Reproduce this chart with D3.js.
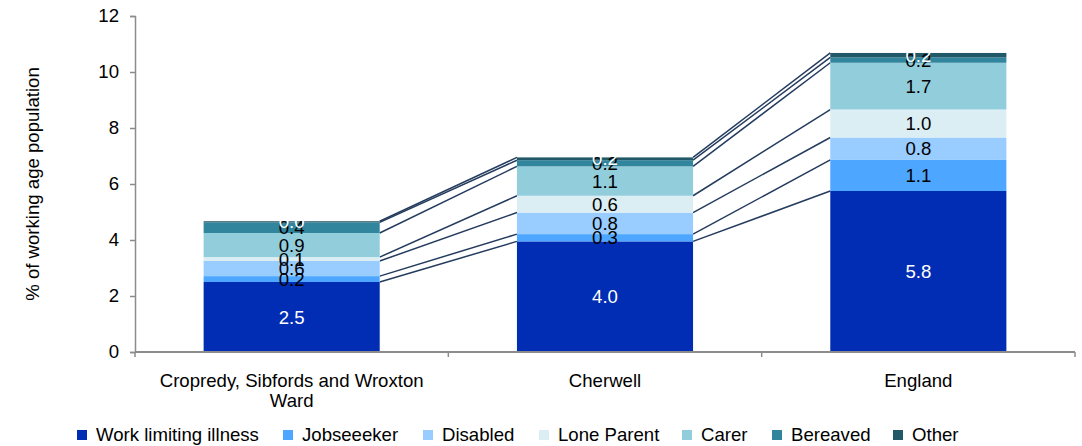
<!DOCTYPE html>
<html>
<head>
<meta charset="utf-8">
<script src="https://cdn.jsdelivr.net/npm/d3@7"></script>
<style>
  body { margin: 0; background: #fff; }
  svg text { font-family: "Liberation Sans", Arial, sans-serif; }
</style>
</head>
<body>
<svg id="chart" width="1082" height="446"></svg>
<script>
const categories = ["Cropredy, Sibfords and Wroxton Ward", "Cherwell", "England"];
const seriesNames = ["Work limiting illness", "Jobseeeker", "Disabled", "Lone Parent", "Carer", "Bereaved", "Other"];
const seriesColors = ["#002db3", "#4da6ff", "#99ccff", "#dbeef4", "#92cddc", "#31859c", "#215968"];
const labelColors = ["#fff", "#000", "#000", "#000", "#000", "#000", "#fff"];

// one array per series, in category order
const workLimiting = [2.5, 3.95, 5.75];
const jobseeker = [0.21, 0.26, 1.11];
const disabled = [0.54, 0.77, 0.8];
const loneParent = [0.14, 0.6, 1.0];
const carer = [0.86, 1.05, 1.67];
const bereaved = [0.38, 0.22, 0.19];
const other = [0.04, 0.1, 0.16];
const valueLabels = [
  ["2.5", "0.2", "0.6", "0.1", "0.9", "0.4", "0.0"],
  ["4.0", "0.3", "0.8", "0.6", "1.1", "0.2", "0.2"],
  ["5.8", "1.1", "0.8", "1.0", "1.7", "0.2", "0.2"]
];
const yTicks = [0, 2, 4, 6, 8, 10, 12];

const allSeries = [workLimiting, jobseeker, disabled, loneParent, carer, bereaved, other];
const rows = categories.map((c, i) => {
  const r = { category: c };
  seriesNames.forEach((s, j) => { r[s] = allSeries[j][i]; });
  return r;
});

const fontSize = 18.6;
const margin = { top: 16, right: 7, bottom: 94, left: 135 };
const width = 1082 - margin.left - margin.right;
const height = 446 - margin.top - margin.bottom;

const svg = d3.select("#chart");
const g = svg.append("g").attr("transform", `translate(${margin.left},${margin.top})`);

const x = d3.scaleBand().domain(categories).range([0, width])
  .paddingInner(0.438).paddingOuter(0.219);
const y = d3.scaleLinear().domain([0, 12]).range([height, 0]);

const stacked = d3.stack().keys(seriesNames)(rows);

// series lines between bars
const lineColor = "#243b5e";
stacked.forEach(layer => {
  for (let i = 0; i < categories.length - 1; i++) {
    g.append("line")
      .attr("x1", x(categories[i]) + x.bandwidth())
      .attr("y1", y(layer[i][1]))
      .attr("x2", x(categories[i + 1]))
      .attr("y2", y(layer[i + 1][1]))
      .attr("stroke", lineColor)
      .attr("stroke-width", 1.5);
  }
});

// bars
stacked.forEach((layer, j) => {
  g.append("g").attr("fill", seriesColors[j])
    .selectAll("rect").data(layer).join("rect")
    .attr("x", d => x(d.data.category))
    .attr("width", x.bandwidth())
    .attr("y", d => y(d[1]))
    .attr("height", d => y(d[0]) - y(d[1]));
});

// value labels
stacked.forEach((layer, j) => {
  g.append("g").selectAll("text").data(layer).join("text")
    .attr("x", d => x(d.data.category) + x.bandwidth() / 2)
    .attr("y", d => y((d[0] + d[1]) / 2))
    .attr("dy", "0.36em")
    .attr("text-anchor", "middle")
    .attr("font-size", fontSize)
    .attr("fill", labelColors[j])
    .text((d, i) => valueLabels[i][j]);
});

// y axis
const yAxis = g.append("g")
  .call(d3.axisLeft(y).tickValues(yTicks).tickSize(5).tickPadding(11).tickFormat(d3.format("d")));
yAxis.select(".domain").attr("stroke", "#8c8c8c").attr("stroke-width", 1.5);
yAxis.selectAll(".tick line").attr("stroke", "#8c8c8c").attr("stroke-width", 1.5);
yAxis.selectAll("text").attr("font-size", fontSize).attr("fill", "#000")
  .attr("font-family", "Liberation Sans, Arial, sans-serif");

// x axis line with boundary ticks
const xAxis = g.append("g").attr("transform", `translate(0,${height})`);
xAxis.append("line").attr("x1", 0).attr("x2", width)
  .attr("stroke", "#8c8c8c").attr("stroke-width", 2);
const boundaries = [0].concat(categories.map(c => x(c) + x.bandwidth() + x.step() * x.paddingInner() / 2));
xAxis.selectAll(".bt").data(boundaries).join("line")
  .attr("x1", d => d).attr("x2", d => d).attr("y1", 0).attr("y2", 5)
  .attr("stroke", "#8c8c8c").attr("stroke-width", 1.5);

// category labels, wrapped as in reference
const catLines = {
  "Cropredy, Sibfords and Wroxton Ward": ["Cropredy, Sibfords and Wroxton", "Ward"]
};
categories.forEach(c => {
  const lines = catLines[c] || [c];
  const t = xAxis.append("text")
    .attr("x", x(c) + x.bandwidth() / 2)
    .attr("y", 35)
    .attr("text-anchor", "middle")
    .attr("font-size", fontSize)
    .attr("fill", "#000");
  lines.forEach((l, k) => {
    t.append("tspan").attr("x", x(c) + x.bandwidth() / 2).attr("dy", k === 0 ? 0 : 20).text(l);
  });
});

// y axis title
svg.append("text")
  .attr("transform", `translate(39,${margin.top + height / 2}) rotate(-90)`)
  .attr("text-anchor", "middle")
  .attr("font-size", fontSize)
  .attr("fill", "#000")
  .text("% of working age population");

// legend
const legendX = [77, 283, 423, 539, 682, 772, 893];
const legend = svg.append("g").attr("transform", "translate(0,435)");
seriesNames.forEach((s, j) => {
  legend.append("rect").attr("x", legendX[j]).attr("y", -5).attr("width", 10).attr("height", 10)
    .attr("fill", seriesColors[j]);
  legend.append("text").attr("x", legendX[j] + 19).attr("y", 0).attr("dy", "0.33em")
    .attr("font-size", fontSize).attr("fill", "#000").text(s);
});
</script>
</body>
</html>
